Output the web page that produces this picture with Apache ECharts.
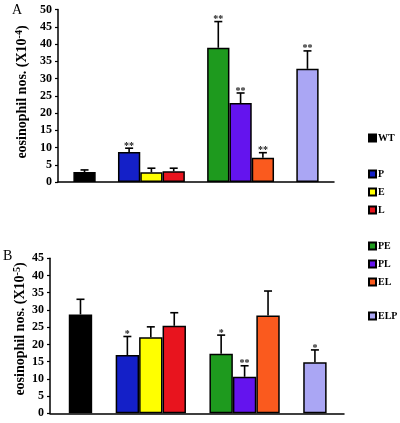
<!DOCTYPE html>
<html>
<head>
<meta charset="utf-8">
<script src="https://cdn.jsdelivr.net/npm/echarts@6/dist/echarts.min.js"></script>
<style>
html,body{margin:0;padding:0;background:#fff;}
#chart{width:400px;height:423px;}
</style>
</head>
<body>
<div id="chart"></div>
<script>
// ---- data ----
const categories = ['WT', 'P', 'E', 'L', 'PE', 'PL', 'EL', 'ELP'];
const slots = [0, 2, 3, 4, 6, 7, 8, 10];           // category slot positions (gaps between groups)
const colors = ['#000000', '#1420c8', '#ffff00', '#e8141e', '#1e9a1e', '#6414ee', '#fa5a1e', '#aaa6f4'];

const valuesA = [2.9, 8.7, 2.8, 3.1, 38.9, 22.9, 7.0, 32.8];
const errorsA = [0.6, 1.1, 1.2, 0.9, 7.6, 2.9, 1.5, 5.2];
const marksA  = ['', '**', '', '', '**', '**', '**', '**'];

const valuesB = [28.7, 16.9, 22.1, 25.4, 17.3, 10.6, 28.4, 14.8];
const errorsB = [4.4, 5.4, 3.0, 3.8, 5.4, 3.2, 7.1, 3.6];
const marksB  = ['', '*', '', '', '*', '**', '', '*'];

const yTicksA = {min: 0, max: 50, interval: 5};
const yTicksB = {min: 0, max: 45, interval: 5};

const legendGroups = [['WT'], ['P', 'E', 'L'], ['PE', 'PL', 'EL'], ['ELP']];

// ---- build ----
const serif = '"Liberation Serif", "Times New Roman", serif';
const chart = echarts.init(document.getElementById('chart'), null, {renderer: 'canvas'});

function barSeries(values, axisIdx, width) {
  return categories.map((c, i) => ({
    name: c,
    type: 'bar',
    xAxisIndex: axisIdx, yAxisIndex: axisIdx,
    barWidth: width,
    barGap: '-100%',
    data: [[slots[i], values[i]]],
    itemStyle: {color: colors[i], borderColor: '#000', borderWidth: 1.5},
    emphasis: {disabled: true},
    z: 2
  }));
}

function errSeries(values, errors, marks, axisIdx, name) {
  return {
    name: name,
    type: 'custom',
    xAxisIndex: axisIdx, yAxisIndex: axisIdx,
    z: 5,
    silent: true,
    data: values.map((v, i) => [slots[i], v, v + errors[i]]),
    renderItem: function (params, api) {
      const x = api.value(0), v = api.value(1), t = api.value(2);
      const p0 = api.coord([x, v]);
      const p1 = api.coord([x, t]);
      const stroke = {stroke: '#000', lineWidth: 1.6};
      const children = [
        {type: 'line', shape: {x1: p0[0], y1: p0[1], x2: p1[0], y2: p1[1]}, style: stroke},
        {type: 'line', shape: {x1: p1[0] - 4, y1: p1[1], x2: p1[0] + 4, y2: p1[1]}, style: stroke}
      ];
      const m = marks[params.dataIndex];
      if (m) {
        children.push({
          type: 'text',
          style: {
            text: m, x: p1[0], y: p1[1] + 3,
            textAlign: 'center', textVerticalAlign: 'bottom',
            font: 'bold 10px ' + serif, fill: '#222'
          }
        });
      }
      return {type: 'group', children: children};
    }
  };
}

function yAxis(idx, t) {
  return {
    type: 'value', gridIndex: idx,
    min: t.min, max: t.max, interval: t.interval,
    axisLine: {show: true, onZero: false, lineStyle: {color: '#000', width: 1.5}},
    axisTick: {show: true, length: 3, lineStyle: {color: '#000', width: 1.2}},
    axisLabel: {color: '#000', fontFamily: serif, fontWeight: 'bold', fontSize: 12, margin: 6},
    splitLine: {show: false}
  };
}
function xAxis(idx, min, max) {
  return {
    type: 'value', gridIndex: idx, min: min, max: max,
    axisLine: {show: true, onZero: false, lineStyle: {color: '#000', width: 1.5}},
    axisTick: {show: false}, axisLabel: {show: false}, splitLine: {show: false}
  };
}

const legendTops = [132, 168, 240, 310];
const legends = legendGroups.map((g, k) => ({
  data: g, orient: 'vertical', left: 368, top: legendTops[k],
  itemWidth: 7, itemHeight: 7, itemGap: 6,
  icon: 'rect', selectedMode: false,
  textStyle: {color: '#000', fontFamily: serif, fontWeight: 'bold', fontSize: 10, lineHeight: 12, padding: [0, 0, 0, -3]},
  padding: 0
}));

const titleRich = {
  n: {fontFamily: serif, fontWeight: 'bold', fontSize: 14, fill: '#000'},
  s: {fontFamily: serif, fontWeight: 'bold', fontSize: 10, fill: '#000', verticalAlign: 'top', lineHeight: 16}
};

const option = {
  backgroundColor: '#fff',
  animation: false,
  grid: [
    {left: 58, top: 9.5, width: 276, height: 172.5},
    {left: 50, top: 258.3, width: 294, height: 155}
  ],
  xAxis: [xAxis(0, -1.19, 11.19), xAxis(1, -1.3, 11.24)],
  yAxis: [yAxis(0, yTicksA), yAxis(1, yTicksB)],
  legend: legends,
  series: [].concat(
    barSeries(valuesA, 0, 22.3),
    barSeries(valuesB, 1, 23.4),
    [errSeries(valuesA, errorsA, marksA, 0, 'errA'), errSeries(valuesB, errorsB, marksB, 1, 'errB')]
  ),
  graphic: [
    {type: 'text', left: 12, top: 3, style: {text: 'A', font: '14px ' + serif, fill: '#000'}},
    {type: 'text', left: 3, top: 249, style: {text: 'B', font: '14px ' + serif, fill: '#000'}},
    {type: 'text', x: 22, y: 92, rotation: Math.PI / 2,
     style: {text: '{n|eosinophil nos. (X10}{s|-4}{n|)}', rich: titleRich, textAlign: 'center', textVerticalAlign: 'middle'}},
    {type: 'text', x: 20, y: 329, rotation: Math.PI / 2,
     style: {text: '{n|eosinophil nos. (X10}{s|-5}{n|)}', rich: titleRich, textAlign: 'center', textVerticalAlign: 'middle'}}
  ]
};
chart.setOption(option);
</script>
</body>
</html>
